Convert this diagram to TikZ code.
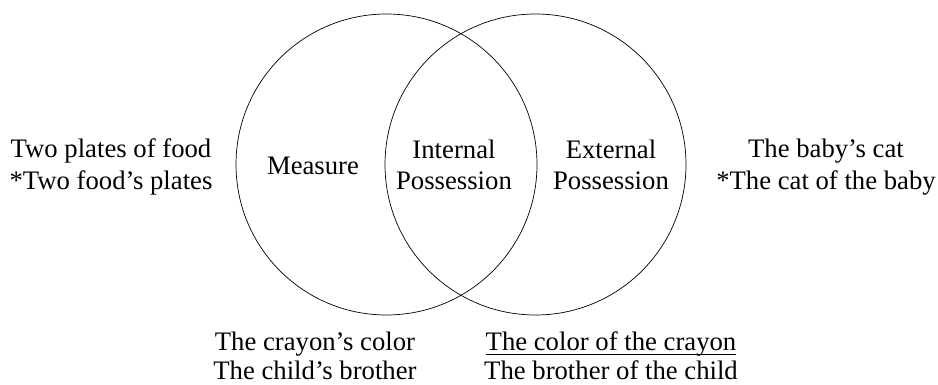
\documentclass[tikz,border=0pt]{standalone}
\usepackage{amsmath}
\usepackage{fontspec}
\setmainfont{Liberation Serif}
\usepackage{tikz}
\usetikzlibrary{positioning}
\tikzset{font=\fontsize{15.2}{17.8}\selectfont}
\tikzset{label text/.style={align=center, inner sep=0pt},
  bottom text/.style={label text, font=\fontsize{15.2}{16.4}\selectfont}}

\begin{document}
\begin{tikzpicture}[x=0.02cm, y=-0.02cm]
          \useasboundingbox (0, 0) rectangle (938, 385);
          \coordinate (lc) at (386.5, 164.5);
          \coordinate (rc) at (535.5, 164.5);
          \draw[thin] (lc) circle (150.5);
          \draw[thin] (rc) circle (150.5);
          \node[label text] (measure) at (313, 166) {Measure};
          \node[label text] (internal) at (454, 165) {Internal\\Possession};
          \node[label text] (external) at (611, 165) {External\\Possession};
          \node[label text] (foodex) at (111, 167) {Two plates of food\\*Two food’s plates};
          \node[label text] (catex) at (826, 167) {The baby’s cat\\*The cat of the baby};
          \node[bottom text] (crayonleft) at (315, 356) {The crayon’s color\\The child’s brother};
          \node[bottom text] (crayonright) at (611, 356) {\underline{\smash[b]{The color of the crayon}}\\The brother of the child};
        \end{tikzpicture}
\end{document}
